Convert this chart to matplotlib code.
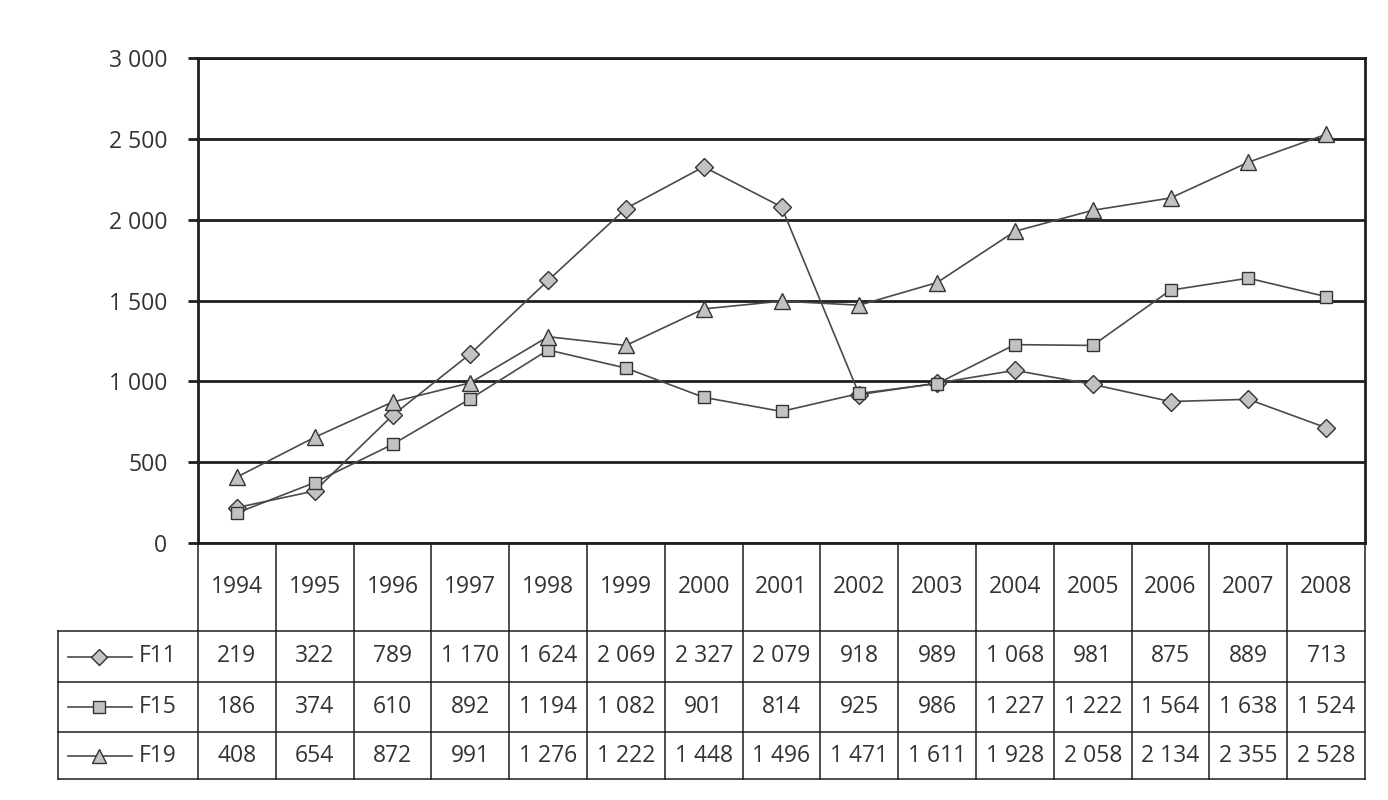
import matplotlib
matplotlib.use("Agg")
from matplotlib import pyplot as plt
from matplotlib.ticker import FuncFormatter
import matplotlib.transforms as mtransforms

plt.rcParams['font.family'] = ['Open Sans', 'DejaVu Sans']

# data
years = ["1994", "1995", "1996", "1997", "1998", "1999", "2000", "2001",
         "2002", "2003", "2004", "2005", "2006", "2007", "2008"]
f11 = [219, 322, 789, 1170, 1624, 2069, 2327, 2079, 918, 989, 1068, 981, 875, 889, 713]
f15 = [186, 374, 610, 892, 1194, 1082, 901, 814, 925, 986, 1227, 1222, 1564, 1638, 1524]
f19 = [408, 654, 872, 991, 1276, 1222, 1448, 1496, 1471, 1611, 1928, 2058, 2134, 2355, 2528]
names = ["F11", "F15", "F19"]
markers = ["D", "s", "^"]
msizes = [9.5, 9, 11]

def fmt(v):
    return "{:,}".format(int(v)).replace(",", " ")

W, H = 1388, 800
fig = plt.figure(figsize=(W / 100, H / 100), dpi=100)
# plot area in pixels: x 198..1365, y 58..543
ax = fig.add_axes([198 / W, (H - 543) / H, (1365 - 198) / W, (543 - 58) / H])

x = list(range(len(years)))
for vals, m, ms in zip([f11, f15, f19], markers, msizes):
    ax.plot(x, vals, color="#4a4a4a", lw=1.2, marker=m, ms=ms,
            mfc="#c2c2c2", mec="#333333", mew=1.0, zorder=3)

ax.set_xlim(-0.5, len(years) - 0.5)
ax.set_ylim(0, 3000)
ax.set_yticks(range(0, 3001, 500))
ax.yaxis.set_major_formatter(FuncFormatter(lambda v, p: fmt(v)))
ax.set_xticks([])
ax.grid(axis="y", color="#1e1e1e", lw=2.0)
for s in ax.spines.values():
    s.set_linewidth(2.0)
    s.set_color("#1e1e1e")
ax.tick_params(axis="y", length=7, width=2, color="#1e1e1e", pad=15,
               labelsize=16.5, labelcolor="#333333")

# data table under the plot
ph = 543 - 58
colw = (1365 - 198) / len(years)
rows_px = [543, 631, 682, 732, 779]
ry = [(543 - r) / ph for r in rows_px]
left = -0.5 - (197 - 57) / colw
right = len(years) - 0.5
tr = mtransforms.blended_transform_factory(ax.transData, ax.transAxes)
lk = dict(color="#1e1e1e", lw=1.1, transform=tr, clip_on=False)

for i in range(len(years) + 1):
    ax.plot([i - 0.5, i - 0.5], [ry[0], ry[-1]], **lk)
ax.plot([left, left], [ry[1], ry[-1]], **lk)
for yy in ry[1:]:
    ax.plot([left, right], [yy, yy], **lk)

tk = dict(transform=tr, ha="center", va="center", fontsize=16.5,
          color="#333333", clip_on=False)
for i, yr in enumerate(years):
    ax.text(i, (ry[0] + ry[1]) / 2, yr, **tk)

leg_x0 = -0.5 - (197 - 67) / colw
leg_x1 = -0.5 - (197 - 131) / colw
leg_xm = -0.5 - (197 - 98) / colw
leg_xt = -0.5 - (197 - 138) / colw
for r, (name, vals, m, ms) in enumerate(zip(names, [f11, f15, f19], markers, msizes)):
    yc = (ry[r + 1] + ry[r + 2]) / 2
    for i, v in enumerate(vals):
        ax.text(i, yc, fmt(v), **tk)
    ax.plot([leg_x0, leg_x1], [yc, yc], color="#4a4a4a", lw=1.2,
            transform=tr, clip_on=False)
    ax.plot([leg_xm], [yc], marker=m, ms=ms - 1, mfc="#c2c2c2", mec="#333333",
            mew=1.0, transform=tr, clip_on=False)
    ax.text(leg_xt, yc, name, transform=tr, ha="left", va="center",
            fontsize=16.5, color="#333333", clip_on=False)

fig.savefig("out.png", dpi=100)
